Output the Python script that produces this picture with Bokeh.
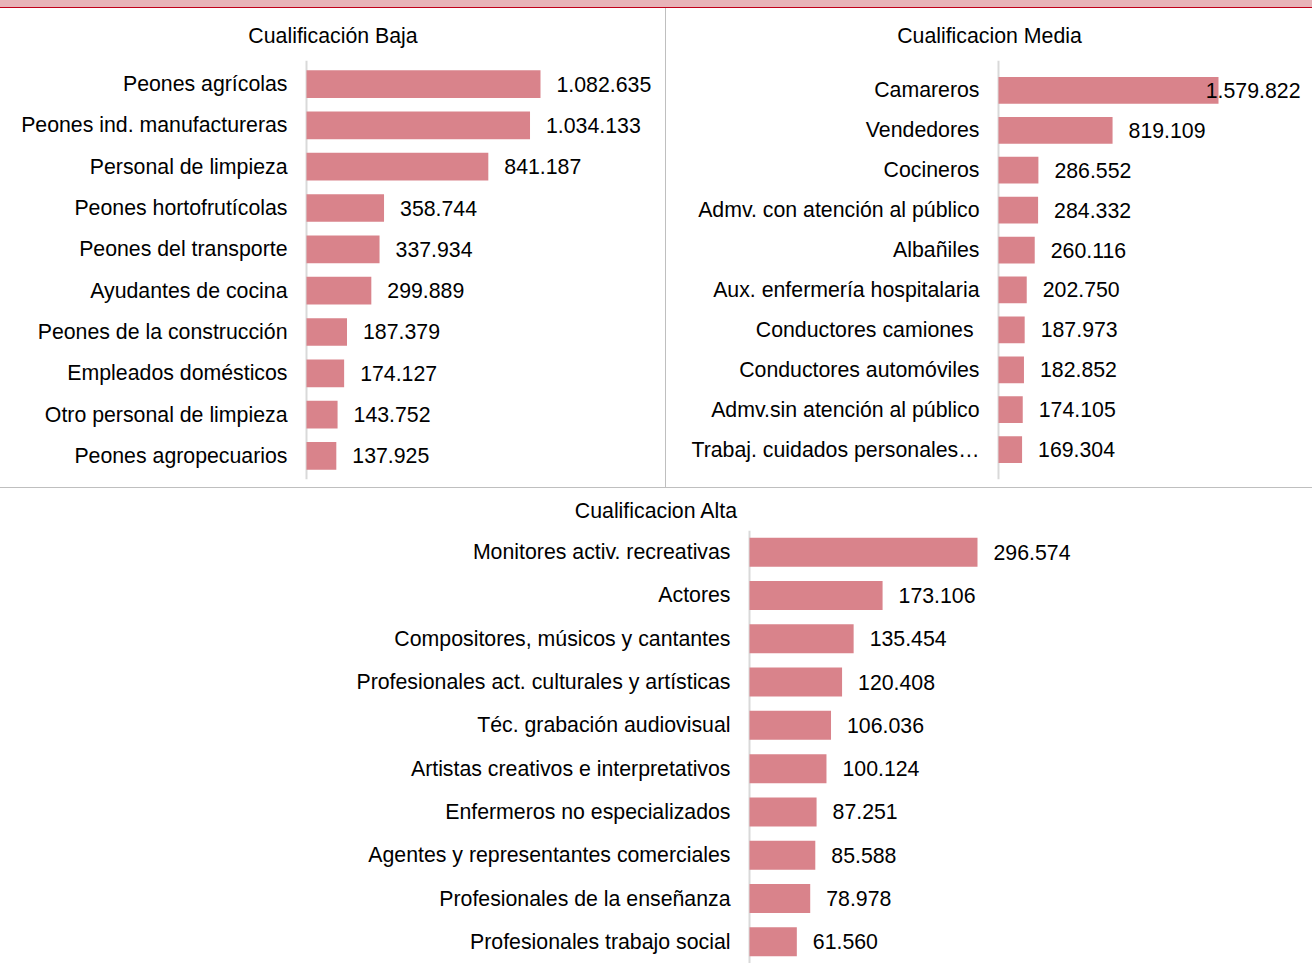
from bokeh.plotting import figure
from bokeh.models import Range1d, FactorRange, Span, Div, ColumnDataSource
from bokeh.layouts import column, row
from bokeh.core.properties import value
from bokeh.embed import file_html
from bokeh.resources import INLINE

# ---------------- data ----------------
baja_cats = ["Peones agrícolas", "Peones ind. manufactureras", "Personal de limpieza",
             "Peones hortofrutícolas", "Peones del transporte", "Ayudantes de cocina",
             "Peones de la construcción", "Empleados domésticos",
             "Otro personal de limpieza", "Peones agropecuarios"]
baja_vals = [1082635, 1034133, 841187, 358744, 337934, 299889, 187379, 174127, 143752, 137925]

media_cats = ["Camareros", "Vendedores", "Cocineros", "Admv. con atención al público",
              "Albañiles", "Aux. enfermería hospitalaria", "Conductores  camiones",
              "Conductores automóviles", "Admv.sin atención al público",
              "Trabaj. cuidados personales…"]
media_vals = [1579822, 819109, 286552, 284332, 260116, 202750, 187973, 182852, 174105, 169304]

alta_cats = ["Monitores activ. recreativas", "Actores", "Compositores, músicos y cantantes",
             "Profesionales act. culturales y artísticas", "Téc. grabación audiovisual",
             "Artistas creativos e interpretativos", "Enfermeros no especializados",
             "Agentes y representantes comerciales", "Profesionales de la enseñanza",
             "Profesionales trabajo social"]
alta_vals = [296574, 173106, 135454, 120408, 106036, 100124, 87251, 85588, 78978, 61560]

titles = ["Cualificación Baja", "Cualificacion Media", "Cualificacion Alta"]

# ---------------- style ----------------
FONT = value("Liberation Sans")
FSIZE = value("21.3px")
BAR = "#D9838B"
AXIS = "#D9D9D9"
SEP = "#BFBFBF"
BAND = "#E8B3B8"
BAND_LINE = "#C0001A"


def fmt(v):
    return f"{v:,}".replace(",", ".")


def panel(title, cats, vals, width, height, zero_px, px_per_unit, top, bottom,
          standoff, pad, title_offset):
    x_start = -zero_px / px_per_unit
    x_end = (width - zero_px) / px_per_unit
    p = figure(width=width, height=height, output_backend="svg", toolbar_location=None,
               x_range=Range1d(x_start, x_end),
               y_range=FactorRange(factors=list(reversed(cats)), range_padding=pad,
                                   range_padding_units="absolute"),
               min_border_left=0, min_border_right=0,
               min_border_top=top, min_border_bottom=bottom,
               outline_line_color=None, background_fill_color="white",
               border_fill_color="white", margin=(0, 0, 0, 0))
    p.axis.visible = False
    p.grid.visible = False
    p.title.text = title
    p.title.align = "center"
    p.title.offset = title_offset
    p.title.text_font = "Liberation Sans"
    p.title.text_font_size = "21.3px"
    p.title.text_font_style = "normal"
    p.title.text_color = "#000000"
    p.title.standoff = standoff

    p.add_layout(Span(location=0, dimension="height", line_color=AXIS, line_width=2,
                      level="underlay"))

    frame_room = width - zero_px
    offs, aligns, xs = [], [], []
    for v in vals:
        if v * px_per_unit + 16 + 100 > frame_room:
            xs.append(x_end)
            offs.append(-12)
            aligns.append("right")
        else:
            xs.append(v)
            offs.append(16)
            aligns.append("left")

    src = ColumnDataSource(dict(cat=cats, val=vals, lab=[fmt(v) for v in vals],
                                lx=xs, off=offs, al=aligns, zero=[0] * len(cats)))
    p.hbar(y="cat", left=0, right="val", height=0.67, source=src,
           fill_color=BAR, line_color=None)
    p.text(x="zero", y="cat", text="cat", source=src, x_offset=-19,
           text_align="right", text_baseline="middle",
           text_font=FONT, text_font_size=FSIZE, text_color="#000000")
    p.text(x="lx", y="cat", text="lab", source=src, x_offset="off",
           text_align="al", text_baseline="middle",
           text_font=FONT, text_font_size=FSIZE, text_color="#000000")
    return p


p1 = panel(titles[0], baja_cats, baja_vals, 665, 479, 306, 234 / 1082635, 51, 8, 26, 0.07, 8)
p2 = panel(titles[1], media_cats, media_vals, 646, 479, 332, 220 / 1579822, 51, 8, 26, 0.25, 3)
p3 = panel(titles[2], alta_cats, alta_vals, 1312, 475, 749, 228 / 296574, 41, 0, 16, 0.0, 8)

band = Div(text="", width=1312, height=7, margin=(0, 0, 0, 0),
           styles={"background-color": BAND})
band_line = Div(text="", width=1312, height=1, margin=(0, 0, 0, 0),
                styles={"background-color": BAND_LINE})
vsep = Div(text="", width=1, height=479, margin=(0, 0, 0, 0),
           styles={"background-color": SEP})
hsep = Div(text="", width=1312, height=1, margin=(0, 0, 0, 0),
           styles={"background-color": SEP})

layout = column(band, band_line,
                row(p1, vsep, p2, spacing=0, margin=(0, 0, 0, 0)),
                hsep, p3, spacing=0, margin=(0, 0, 0, 0))

open("out.html", "w").write(file_html(layout, INLINE))
